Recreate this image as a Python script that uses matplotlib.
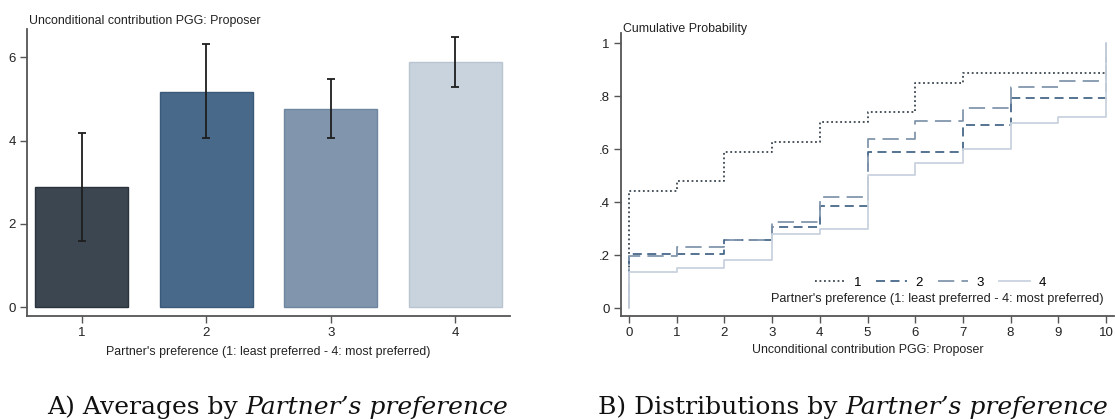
import matplotlib
matplotlib.use("Agg")
import matplotlib.pyplot as plt
import numpy as np

# Panel A: mean contribution with confidence intervals
groups = ["1", "2", "3", "4"]
means = [2.88, 5.17, 4.77, 5.89]
ci_low = [1.58, 4.07, 4.07, 5.29]
ci_high = [4.19, 6.31, 5.47, 6.48]
bar_colors = ["#3b4651", "#48698a", "#8196ad", "#c9d3de"]
bar_edges = ["#2a333c", "#3a5a7a", "#6f86a0", "#b8c4d1"]

# Panel B: empirical CDFs by partner preference (level on [x, x+1))
contrib = list(range(11))
cdf_1 = [0.444, 0.482, 0.591, 0.629, 0.702, 0.740, 0.850, 0.888, 0.888, 0.888, 1.0]
cdf_2 = [0.205, 0.205, 0.258, 0.308, 0.385, 0.589, 0.589, 0.692, 0.794, 0.794, 1.0]
cdf_3 = [0.197, 0.233, 0.258, 0.327, 0.419, 0.639, 0.707, 0.755, 0.836, 0.859, 1.0]
cdf_4 = [0.136, 0.153, 0.182, 0.279, 0.300, 0.504, 0.548, 0.601, 0.698, 0.722, 1.0]
line_styles = [(0, (1.0, 1.5)), (0, (5, 3)), (0, (9, 4)), "-"]
line_colors = ["#3b4651", "#48698a", "#8196ad", "#c9d3de"]

SANS = ["Liberation Sans", "DejaVu Sans"]
SERIF = ["DejaVu Serif"]
plt.rcParams["font.family"] = SANS
AX_GRAY = "#555555"
TXT = "#222222"
LBL = 8.9

fig = plt.figure(figsize=(11.15, 4.2), dpi=100)


def style_axes(ax):
    for s in ["top", "right"]:
        ax.spines[s].set_visible(False)
    for s in ["left", "bottom"]:
        ax.spines[s].set_color(AX_GRAY)
        ax.spines[s].set_linewidth(1.3)
    ax.tick_params(axis="both", colors=AX_GRAY, labelcolor=TXT,
                   length=5, width=1.0, labelsize=9.5, pad=3)
    ax.set_facecolor("white")


# ---------- Panel A ----------
axA = fig.add_axes([27 / 1115, 1 - 315.7 / 420, (510 - 27) / 1115, (315.7 - 29.3) / 420])
style_axes(axA)
xpos = np.arange(1, len(groups) + 1)
axA.bar(xpos, means, width=0.75, color=bar_colors, edgecolor=bar_edges, linewidth=1.0)
yerr = [np.array(means) - np.array(ci_low), np.array(ci_high) - np.array(means)]
axA.errorbar(xpos, means, yerr=yerr, fmt="none", ecolor="#1e1e1e",
             elinewidth=1.3, capsize=3, capthick=1.3)
axA.set_xlim(0.56, 4.44)
axA.set_ylim(-0.2, 6.67)
axA.set_xticks(xpos)
axA.set_xticklabels(groups)
axA.set_yticks([0, 2, 4, 6])
axA.set_xlabel("Partner's preference (1: least preferred - 4: most preferred)",
               fontsize=LBL, color=TXT, labelpad=5.5)
axA.text(0.004, 1.0175, "Unconditional contribution PGG: Proposer", transform=axA.transAxes,
         fontsize=LBL, color=TXT, ha="left", va="baseline")

# ---------- Panel B ----------
axB = fig.add_axes([621 / 1115, 1 - 315.7 / 420, (1114 - 621) / 1115, (315.7 - 33.3) / 420])
style_axes(axB)
series = [cdf_1, cdf_2, cdf_3, cdf_4]
handles = []
for lbl, vals, ls, col in zip(groups, series, line_styles, line_colors):
    xs = [contrib[0]] + contrib
    ys = [0.0] + vals
    h, = axB.step(xs, ys, where="post", linestyle=ls, color=col, linewidth=1.3, label=lbl)
    handles.append(h)
axB.set_xlim(-0.17, 10.17)
axB.set_ylim(-0.028, 1.038)
axB.set_xticks(contrib)
axB.set_yticks([0, 0.2, 0.4, 0.6, 0.8, 1.0])
axB.set_yticklabels(["0", ".2", ".4", ".6", ".8", "1"])
axB.set_xlabel("Unconditional contribution PGG: Proposer", fontsize=LBL,
               color=TXT, labelpad=4)
axB.text(0.004, 1.0057, "Cumulative Probability", transform=axB.transAxes,
         fontsize=LBL, color=TXT, ha="left", va="baseline")
leg = axB.legend(handles=handles, ncol=4, frameon=False, fontsize=9.5,
                 handlelength=2.3, columnspacing=1.15, handletextpad=0.65,
                 loc="center right", bbox_to_anchor=(0.872, 0.116),
                 borderaxespad=0)
axB.text(0.978, 0.06, "Partner's preference (1: least preferred - 4: most preferred)",
         transform=axB.transAxes, fontsize=9.2, color=TXT,
         ha="right", va="center")

# ---------- Captions ----------
fig.canvas.draw()
renderer = fig.canvas.get_renderer()


def caption(x_px, base_y_px, plain, italic):
    t1 = fig.text(x_px / 1115, 1 - base_y_px / 420, plain, family=SERIF,
                  fontsize=18, color="#111111", ha="left", va="baseline")
    bb = t1.get_window_extent(renderer)
    fig.text(bb.x1 / fig.bbox.width, 1 - base_y_px / 420, italic, family=SERIF,
             style="italic", fontsize=18, color="#111111", ha="left", va="baseline")


caption(47, 414, "A) Averages by ", "Partner\u2019s preference")
caption(598, 414, "B) Distributions by ", "Partner\u2019s preference")

fig.savefig("out.png", dpi=100, facecolor="white")
